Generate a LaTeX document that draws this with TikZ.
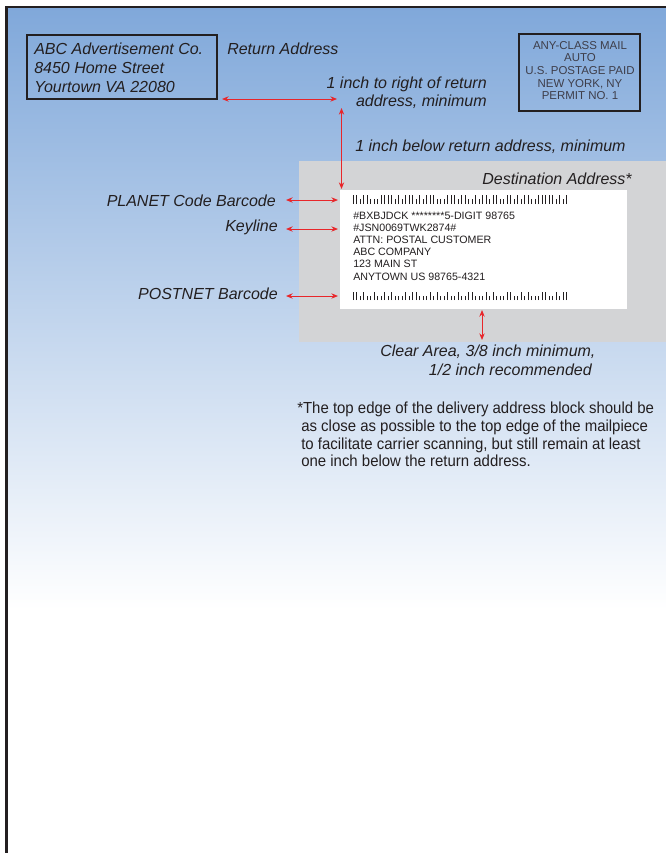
\documentclass[tikz,border=0pt]{standalone}
\usepackage{fontspec}
\setmainfont{Liberation Sans}
\newfontfamily\narrowfont[FakeStretch=0.935]{Liberation Sans}
\usetikzlibrary{arrows.meta}

\definecolor{mailblue}{RGB}{128,168,218}
\definecolor{midblue}{RGB}{222,229,243}
\definecolor{cleargray}{RGB}{211,212,214}
\definecolor{dimred}{RGB}{232,38,42}
\definecolor{ink}{RGB}{35,31,32}
\definecolor{stampink}{RGB}{62,62,74}

\tikzset{
  note/.style = {font=\fontsize{12}{14}\selectfont\itshape, text=ink, inner sep=0pt},
  foot/.style = {font=\narrowfont\fontsize{12}{14}\selectfont, text=ink, inner sep=0pt, anchor=base west},
  small/.style = {font=\fontsize{8}{9}\selectfont, text=ink, inner sep=0pt, anchor=base west},
  stamp/.style = {font=\fontsize{8.6}{9}\selectfont, text=stampink, inner sep=0pt, anchor=base},
  dimarrow/.style = {draw=dimred, line width=0.7pt,
    {Stealth[length=5pt,width=4pt]}-{Stealth[length=5pt,width=4pt]}},
  bar/.style = {draw=ink, line width=1pt}
}

\begin{document}
\begin{tikzpicture}[x=0.75pt, y=-0.75pt]
    \useasboundingbox (0,0) rectangle (666,853);
    % Mailpiece background
    \fill[white] (0,0) rectangle (666,853);
    \shade[top color=mailblue, middle color=midblue, bottom color=white] (6,7) rectangle (666,610);
    \draw[ink, line width=2.2pt] (6.3,853) -- (6.3,7) -- (666,7);

    % Return address
    \draw[ink, line width=1.5pt] (27,35) rectangle (217,99);
    \foreach \txt [count=\i from 0] in {ABC Advertisement Co., 8450 Home Street, Yourtown VA 22080}
        \node (ret\i) at (34,{54+19*\i}) [note, anchor=base west] {\txt};
    \node (retlabel) at (227,54) [note, anchor=base west] {Return Address};

    % Postage indicia
    \draw[ink, line width=1.5pt] (519,34) rectangle (640,111);
    \foreach \txt [count=\i from 0] in {ANY-CLASS MAIL, AUTO, U.S. POSTAGE PAID, {NEW YORK, NY}, PERMIT NO. 1}
        \node (stamp\i) at (580,{49.3+12.65*\i}) [stamp] {\txt};

    % Distance to the right of the return address
    \coordinate (rtL) at (222,99);
    \coordinate (rtR) at (337,99);
    \draw[dimarrow] (rtL) -- (rtR);
    \node (right1) at (487,88.3) [note, anchor=base east] {1 inch to right of return};
    \node (right2) at (487,106.7) [note, anchor=base east] {address, minimum};

    % Clear area and address block
    \fill[cleargray] (299,161) rectangle (666,342);
    \fill[white] (340,190) rectangle (627,309);
    \node (destlabel) at (632,184) [note, anchor=base east] {Destination Address*};

    % Distance below the return address
    \coordinate (dnT) at (341.5,108);
    \coordinate (dnB) at (341.5,189);
    \draw[dimarrow] (dnT) -- (dnB);
    \node (below) at (355,151.7) [note, anchor=base west] {1 inch below return address, minimum};

    % PLANET Code barcode
    \foreach \h [count=\i from 0] in {9,9,5,9,9,5,5,5,9,9,9,9,5,9,5,9,9,9,5,9,5,9,9,9,5,5,5,9,9,9,5,9,9,5,5,9,5,9,9,5,9,9,5,5,9,9,5,9,5,9,9,5,5,9,9,9,9,9,5,9,5,9}
        \draw[bar] ({353.3+3.5*\i},204) -- ++(0,-\h);

    % Address lines
    \foreach \txt [count=\i from 0] in {\#BXBJDCK ********5-DIGIT 98765, \#JSN0069TWK2874\#, ATTN: POSTAL CUSTOMER, ABC COMPANY, 123 MAIN ST, ANYTOWN US 98765-4321}
        \node (dest\i) at (353,{219+12.2*\i}) [small] {\txt};

    % POSTNET barcode
    \foreach \h [count=\i from 0] in {8,8,4,8,4,4,8,4,4,8,4,8,4,4,4,8,4,8,8,4,4,4,8,4,8,4,4,8,4,4,8,4,4,8,8,4,4,4,8,4,8,4,4,4,8,8,4,4,8,4,8,4,4,4,8,8,4,4,8,4,8,8}
        \draw[bar] ({353.3+3.5*\i},300) -- ++(0,-\h);

    % Barcode and keyline labels
    \node (planet) at (276,206) [note, anchor=base east] {PLANET Code Barcode};
    \node (keyline) at (278,231) [note, anchor=base east] {Keyline};
    \node (postnet) at (278,299.3) [note, anchor=base east] {POSTNET Barcode};
    \coordinate (planetL) at (286,200);
    \coordinate (planetR) at (338,200);
    \coordinate (keyL) at (286,229);
    \coordinate (keyR) at (338,229);
    \coordinate (postL) at (286,296);
    \coordinate (postR) at (338,296);
    \draw[dimarrow] (planetL) -- (planetR);
    \draw[dimarrow] (keyL) -- (keyR);
    \draw[dimarrow] (postL) -- (postR);

    % Clear area below the address block
    \coordinate (clrT) at (482,310);
    \coordinate (clrB) at (482,340);
    \draw[dimarrow] (clrT) -- (clrB);
    \node (clear1) at (380,356) [note, anchor=base west] {Clear Area, 3/8 inch minimum,};
    \node (clear2) at (592,375) [note, anchor=base east] {1/2 inch recommended};

    % Footnote
    \node (foot0) at (297,413.3) [foot] {*The top edge of the delivery address block should be};
    \node (foot1) at (301,431) [foot] {as close as possible to the top edge of the mailpiece};
    \node (foot2) at (301,449) [foot] {to facilitate carrier scanning, but still remain at least};
    \node (foot3) at (301,466.7) [foot] {one inch below the return address.};
\end{tikzpicture}
\end{document}
